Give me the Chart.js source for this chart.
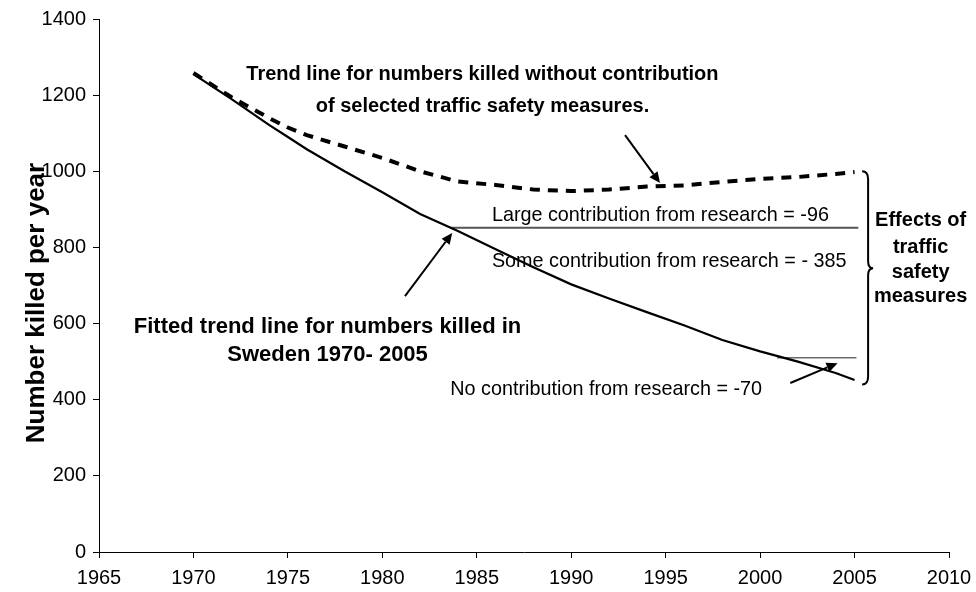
<!DOCTYPE html>
<html>
<head>
<meta charset="utf-8">
<script src="https://cdn.jsdelivr.net/npm/chart.js@4/dist/chart.umd.min.js"></script>
<style>
html,body{margin:0;padding:0;background:#fff;}
#wrap{width:976px;height:592px;position:relative;}
</style>
</head>
<body>
<div id="wrap"><canvas id="c" width="976" height="592"></canvas></div>
<script>
// ---- data ----
const fittedYears  = [1970,1972,1974,1975,1976,1978,1980,1982,1984,1986,1988,1990,1992,1994,1996,1998,2000,2002,2004,2005];
const fittedKilled = [1255,1190,1122,1090,1058,1000,945,888,843,795,748,703,666,630,595,557,527,500,470,452];

const noMeasuresYears  = [1970,1972,1974,1975,1976,1978,1980,1982,1984,1986,1988,1990,1992,1994,1996,1998,2000,2002,2004,2005];
const noMeasuresKilled = [1258,1195,1140,1115,1095,1065,1035,1000,973,964,952,948,952,960,963,972,980,985,993,998];

const largeLineYears = [1983.6, 2005.2];
const largeLineValue = [852, 852];
const noContribLineYears = [2000.9, 2005.1];
const noContribLineValue = [510, 510];

const xTicks = [1965,1970,1975,1980,1985,1990,1995,2000,2005,2010];
const yTicks = [0,200,400,600,800,1000,1200,1400];

const yTitle = "Number killed per year";
const notes = [
  {text:"Trend line for numbers killed without contribution", x:1985.3, y:1253, align:"center", size:20, bold:true},
  {text:"of selected traffic safety measures.", x:1985.3, y:1169, align:"center", size:20, bold:true},
  {text:"Large contribution from research = -96", x:1985.8, y:885, align:"left", size:19.8, bold:false},
  {text:"Some contribution from research = - 385", x:1985.8, y:762, align:"left", size:19.8, bold:false},
  {text:"Fitted trend line for numbers killed in", x:1977.1, y:591, align:"center", size:22, bold:true},
  {text:"Sweden 1970- 2005", x:1977.1, y:517, align:"center", size:22, bold:true},
  {text:"No contribution from research = -70", x:1983.6, y:428, align:"left", size:19.8, bold:false},
  {text:"Effects of", x:2008.5, y:872, align:"center", size:20, bold:true},
  {text:"traffic", x:2008.5, y:799, align:"center", size:20, bold:true},
  {text:"safety", x:2008.5, y:735, align:"center", size:20, bold:true},
  {text:"measures", x:2008.5, y:672, align:"center", size:20, bold:true}
];
const arrows = [
  {from:[1992.85,1095], to:[1994.7,969]},
  {from:[1981.2,672], to:[1983.7,838]},
  {from:[2001.6,444], to:[2004.1,496]}
];
const brace = {x:2005.4, top:1000, bottom:440, mid:745};

const FONT = "'Liberation Sans', Arial, Helvetica, sans-serif";

const annot = {
  id:'annot',
  afterDatasetsDraw(chart){
    const ctx = chart.ctx, xs = chart.scales.x, ys = chart.scales.y;
    ctx.save();
    ctx.fillStyle = '#000';
    ctx.textBaseline = 'middle';
    notes.forEach(n=>{
      ctx.font = (n.bold ? 'bold ' : '') + n.size + 'px ' + FONT;
      ctx.textAlign = n.align;
      ctx.fillText(n.text, xs.getPixelForValue(n.x), ys.getPixelForValue(n.y));
    });
    // arrows
    ctx.strokeStyle = '#000';
    ctx.lineWidth = 2;
    arrows.forEach(a=>{
      const x1 = xs.getPixelForValue(a.from[0]), y1 = ys.getPixelForValue(a.from[1]);
      const x2 = xs.getPixelForValue(a.to[0]), y2 = ys.getPixelForValue(a.to[1]);
      const ang = Math.atan2(y2-y1, x2-x1);
      const L = 11, W = 5;
      const bx = x2 - L*Math.cos(ang), by = y2 - L*Math.sin(ang);
      ctx.beginPath(); ctx.moveTo(x1,y1); ctx.lineTo(bx,by); ctx.stroke();
      ctx.beginPath();
      ctx.moveTo(x2,y2);
      ctx.lineTo(bx + W*Math.sin(ang), by - W*Math.cos(ang));
      ctx.lineTo(bx - W*Math.sin(ang), by + W*Math.cos(ang));
      ctx.closePath(); ctx.fill();
    });
    // brace
    const x0 = xs.getPixelForValue(brace.x);
    const t = ys.getPixelForValue(brace.top), b = ys.getPixelForValue(brace.bottom), m = ys.getPixelForValue(brace.mid);
    ctx.lineWidth = 2;
    ctx.beginPath();
    ctx.moveTo(x0, t);
    ctx.quadraticCurveTo(x0+6, t, x0+6, t+8);
    ctx.lineTo(x0+6, m-7);
    ctx.quadraticCurveTo(x0+6, m, x0+11, m);
    ctx.quadraticCurveTo(x0+6, m, x0+6, m+7);
    ctx.lineTo(x0+6, b-8);
    ctx.quadraticCurveTo(x0+6, b, x0, b);
    ctx.stroke();
    // y axis title
    ctx.save();
    ctx.translate(37, 303);
    ctx.rotate(-Math.PI/2);
    ctx.textAlign = 'center';
    ctx.font = 'bold 26px ' + FONT;
    ctx.fillText(yTitle, 0, 0);
    ctx.restore();
    ctx.restore();
  }
};

const toPts = (xs, ys) => xs.map((x,i)=>({x:x, y:ys[i]}));

new Chart(document.getElementById('c'), {
  type:'line',
  data:{
    datasets:[
      {label:'Fitted trend', data:toPts(fittedYears, fittedKilled), borderColor:'#000', borderWidth:2.2, pointRadius:0, tension:0, fill:false},
      {label:'Without measures', data:toPts(noMeasuresYears, noMeasuresKilled), borderColor:'#000', borderWidth:4, borderDash:[10,8], borderCapStyle:'butt', pointRadius:0, tension:0, fill:false},
      {label:'Large', data:toPts(largeLineYears, largeLineValue), borderColor:'#555', borderWidth:2, pointRadius:0, fill:false},
      {label:'No', data:toPts(noContribLineYears, noContribLineValue), borderColor:'#222', borderWidth:1, pointRadius:0, fill:false}
    ]
  },
  options:{
    responsive:false,
    animation:false,
    devicePixelRatio:1,
    layout:{padding:{top:19, right:27, left:0, bottom:0}},
    plugins:{legend:{display:false}, tooltip:{enabled:false}, title:{display:false}},
    scales:{
      x:{
        type:'linear', min:xTicks[0], max:xTicks[xTicks.length-1],
        afterBuildTicks:s=>{ s.ticks = xTicks.map(v=>({value:v})); },
        afterFit:s=>{ s.height = 40; s.paddingLeft = 0; s.paddingRight = 0; },
        ticks:{color:'#000', font:{family:FONT, size:20}, padding:8, maxRotation:0, autoSkip:false, callback:v=>String(v)},
        grid:{display:true, drawOnChartArea:false, drawTicks:true, tickLength:6, tickColor:'#000'},
        border:{display:true, color:'#000', width:1}
      },
      y:{
        min:yTicks[0], max:yTicks[yTicks.length-1],
        afterBuildTicks:s=>{ s.ticks = yTicks.map(v=>({value:v})); },
        afterFit:s=>{ s.width = 99; s.paddingTop = 0; s.paddingBottom = 0; },
        ticks:{color:'#000', font:{family:FONT, size:20}, padding:7, callback:v=>String(v)},
        grid:{display:true, drawOnChartArea:false, drawTicks:true, tickLength:6, tickColor:'#000'},
        border:{display:true, color:'#000', width:1}
      }
    }
  },
  plugins:[annot]
});
</script>
</body>
</html>
